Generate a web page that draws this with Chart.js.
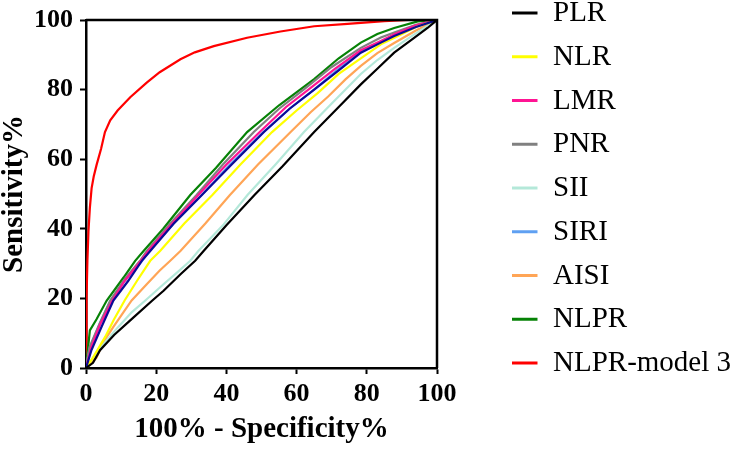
<!DOCTYPE html>
<html>
<head>
<meta charset="utf-8">
<script src="https://cdn.jsdelivr.net/npm/chart.js@4"></script>
<style>
  html, body { margin: 0; padding: 0; background: #fff; }
  #wrap { width: 734px; height: 452px; position: relative; }
</style>
</head>
<body>
<div id="wrap"><canvas id="c" width="734" height="452"></canvas></div>
<script>
// ---- Data: [100% - Specificity%, Sensitivity%] pairs ----
const xTicks = [0, 20, 40, 60, 80, 100];
const yTicks = [0, 20, 40, 60, 80, 100];

const seriesNames = ["PLR", "NLR", "LMR", "PNR", "SII", "SIRI", "AISI", "NLPR", "NLPR-model 3"];

const PLR = [[0,0],[2,1.5],[4,5.1],[8,9.5],[12.6,13.7],[18.9,19.4],[22.1,22.2],[27,27],[31.1,30.8],[33.5,33.6],[40,41],[48,49.7],[56,58],[65,67.8],[72,75],[78.3,81.5],[83,86],[87.8,90.6],[93,94.5],[97.3,97.7],[100,100]];
const NLR = [[0,0],[2,3],[5.5,9],[8,14],[11,19.4],[14.5,25],[18.3,30.8],[21.1,33.6],[28,41.5],[36,49.7],[44,58.5],[53,67.8],[60,74],[66,79],[72,84.5],[78.3,89],[84,93],[88,95],[94,98],[100,100]];
const LMR = [[0,0],[1.5,6],[4,12.5],[7.5,19.4],[11,25],[15.6,30.8],[18,34],[25,42],[32,49.7],[40,58.5],[49.5,67.8],[57,75],[64,80.5],[71,86],[78.3,91.3],[84,94],[88,96],[94,98.5],[100,100]];
const PNR = [[0,0],[1,6],[4,13],[6.9,19.4],[11,25.5],[15.4,30.8],[17.3,33.6],[24,41.5],[31.5,49.7],[39,58.5],[47.8,67.8],[55,74.5],[62,80],[70,86.5],[78.3,92],[84,95],[88,96.5],[94,98.6],[100,100]];
const SII = [[0,0],[3,4.5],[9,11.6],[13,16],[16.9,19.4],[22,24],[26,27.5],[29.7,30.8],[32,33.6],[39,41],[46,49.7],[54,58.5],[62.1,67.8],[70,76],[78.3,84.5],[83,88.5],[87.8,92],[93,95.5],[100,100]];
const SIRI = [[0,0],[1,5.5],[4,13],[7,19.4],[11,25],[16,30.8],[18,33.6],[25,41.5],[33,49.7],[41,58.5],[50.5,67.8],[58,74.5],[65,80],[72,86],[78.3,90.8],[84,93.8],[88,95.6],[94,98.3],[100,100]];
const AISI = [[0,0],[3,3],[5,7.5],[7.8,11.8],[13,19.4],[17.3,24.1],[21,28],[24,30.8],[26.9,33.6],[34,41.5],[41,49.7],[49,58.5],[58.3,67.8],[64,73.5],[69,78],[74,83],[78.3,86.8],[83,90.5],[87.8,93.4],[94,97],[100,100]];
const NLPR = [[0,0],[0.5,5],[1.1,10.8],[3,14],[5.9,19.4],[10.7,26],[14,30.8],[16.4,33.6],[22,40],[29.7,49.7],[37,57.5],[45.9,67.8],[55,75.5],[65,83],[72,89],[78.3,93.5],[83,96],[87.8,97.7],[94.5,99.6],[100,100]];
const MODEL3 = [[0,0],[0.1,10],[0.2,20],[0.4,30.8],[0.7,39.3],[1.1,46],[1.6,51.7],[2.2,55],[3,58.3],[4.3,63],[5.4,67.8],[6.9,71.2],[9,74],[12.6,77.8],[17.3,82],[21,85],[26.9,88.7],[31,90.7],[36.4,92.5],[45.9,94.9],[55.4,96.7],[65,98.2],[74.5,98.9],[85,99.7],[92,100],[100,100]];
// unlabelled dark-blue curve that appears in the plot but not in the legend
const EXTRA = [[0,0],[1.5,5],[4.5,12],[7.8,19.4],[12,25],[15.9,30.8],[18.3,33.6],[25,41.5],[33,49.7],[41.5,58.5],[50.7,67.8],[58,74.5],[65,80],[72,85.5],[78.3,90.6],[84,93.5],[87.8,95.4],[94,98],[100,100]];

const seriesColors = ["#000000", "#FFFF00", "#FF1493", "#808080", "#B4E8D9", "#5FA0F2", "#FFA556", "#068206", "#FF0000"];

// ---- Chart ----
const FONT = "'Liberation Serif', 'Times New Roman', Times, serif";
const toPts = arr => arr.map(p => ({ x: p[0], y: p[1] }));
const seriesData = [PLR, NLR, LMR, PNR, SII, SIRI, AISI, NLPR, MODEL3];

const datasets = seriesData.map((arr, i) => ({
  label: seriesNames[i],
  data: toPts(arr),
  borderColor: seriesColors[i],
  backgroundColor: seriesColors[i],
  borderWidth: 2.2,
  pointRadius: 0,
  tension: 0,
  fill: false,
  order: i === 0 ? 0 : 2
}));
datasets.push({
  label: "",
  data: toPts(EXTRA),
  borderColor: "#0A0A96",
  backgroundColor: "#0A0A96",
  borderWidth: 2.2,
  pointRadius: 0,
  tension: 0,
  fill: false,
  order: 1,
  hideInLegend: true
});

const frameAndLegend = {
  id: 'frameAndLegend',
  afterDatasetsDraw(chart) {
    const { ctx, chartArea: a } = chart;
    ctx.save();
    ctx.strokeStyle = '#000';
    ctx.lineWidth = 2.5;
    ctx.beginPath();
    ctx.moveTo(a.left, a.top);
    ctx.lineTo(a.right, a.top);
    ctx.lineTo(a.right, a.bottom);
    ctx.stroke();
    ctx.restore();
  },
  afterDraw(chart) {
    const { ctx } = chart;
    ctx.save();
    ctx.font = "29px " + FONT;
    ctx.textBaseline = 'middle';
    ctx.textAlign = 'left';
    let row = 0;
    chart.data.datasets.forEach(ds => {
      if (ds.hideInLegend) return;
      const y = 13 + row * 43.75;
      ctx.strokeStyle = ds.borderColor;
      ctx.lineWidth = 3;
      ctx.beginPath();
      ctx.moveTo(512, y);
      ctx.lineTo(537.5, y);
      ctx.stroke();
      ctx.fillStyle = '#000';
      ctx.fillText(ds.label, 553, y + 0.5);
      row++;
    });
    ctx.restore();
  }
};

new Chart(document.getElementById('c'), {
  type: 'line',
  data: { datasets },
  options: {
    responsive: false,
    animation: false,
    devicePixelRatio: 1,
    layout: { padding: { top: 17, right: 297, left: 0, bottom: 0 } },
    plugins: { legend: { display: false }, tooltip: { enabled: false } },
    scales: {
      x: {
        type: 'linear', min: 0, max: 100,
        afterBuildTicks: s => { s.ticks = xTicks.map(v => ({ value: v })); },
        afterFit: s => { s.height = 84; },
        ticks: { color: '#000', padding: 7, font: { family: FONT, size: 26, weight: 'bold', lineHeight: 1 }, maxRotation: 0 },
        grid: { display: true, drawOnChartArea: false, drawTicks: true, tickLength: 6, tickWidth: 2, tickColor: '#000', color: '#000' },
        border: { display: true, color: '#000', width: 2.5 },
        title: { display: true, text: '100% - Specificity%', color: '#000', padding: { top: 0, bottom: 8 }, font: { family: FONT, size: 29, weight: 'bold', lineHeight: 1 } }
      },
      y: {
        type: 'linear', min: 0, max: 100,
        afterBuildTicks: s => { s.ticks = yTicks.map(v => ({ value: v })); },
        afterFit: s => { s.width = 86; },
        ticks: { color: '#000', padding: 7, font: { family: FONT, size: 26, weight: 'bold', lineHeight: 1 } },
        grid: { display: true, drawOnChartArea: false, drawTicks: true, tickLength: 6, tickWidth: 2, tickColor: '#000', color: '#000' },
        border: { display: true, color: '#000', width: 2.5 },
        title: { display: true, text: 'Sensitivity%', color: '#000', padding: { top: 0, bottom: 0 }, font: { family: FONT, size: 29, weight: 'bold', lineHeight: 1 } }
      }
    }
  },
  plugins: [frameAndLegend]
});
</script>
</body>
</html>
